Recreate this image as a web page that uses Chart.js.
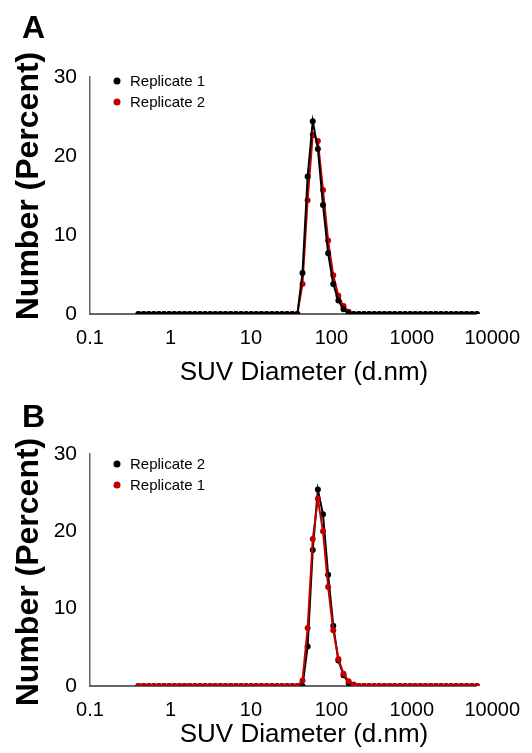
<!DOCTYPE html>
<html>
<head>
<meta charset="utf-8">
<script src="https://cdn.jsdelivr.net/npm/chart.js@4.4.1/dist/chart.umd.min.js"></script>
<style>
  html, body { margin: 0; padding: 0; background: #fff; }
  canvas { display: block; }
</style>
</head>
<body>
<canvas id="chartA" width="532" height="390"></canvas>
<canvas id="chartB" width="532" height="363"></canvas>
<script>
// DLS size bins (d.nm)
const sizes = [0.4, 0.4632, 0.5365, 0.6213, 0.7195, 0.8332, 0.9649, 1.117, 1.294, 1.499,
  1.736, 2.01, 2.328, 2.696, 3.122, 3.615, 4.187, 4.849, 5.615, 6.503,
  7.531, 8.721, 10.1, 11.7, 13.54, 15.69, 18.17, 21.04, 24.36, 28.21,
  32.67, 37.84, 43.82, 50.75, 58.77, 68.06, 78.82, 91.28, 105.7, 122.4,
  141.8, 164.2, 190.1, 220.2, 255, 295.3, 342, 396.1, 458.7, 531.2,
  615.1, 712.4, 825, 955.4, 1106, 1281, 1484, 1718, 1990, 2305,
  2669, 3091, 3580, 4145, 4801, 5560, 6439];

// panel A
const a_rep1 = [0, 0, 0, 0, 0, 0, 0, 0, 0, 0, 0, 0, 0, 0, 0, 0, 0, 0, 0, 0,
  0, 0, 0, 0, 0, 0, 0, 0, 0, 0, 0, 0, 5.2, 17.4, 24.4, 20.9, 13.8, 7.7, 3.8, 1.7,
  0.6, 0.1, 0, 0, 0, 0, 0, 0, 0, 0, 0, 0, 0, 0, 0, 0, 0, 0, 0, 0,
  0, 0, 0, 0, 0, 0, 0];
const a_rep2 = [0, 0, 0, 0, 0, 0, 0, 0, 0, 0, 0, 0, 0, 0, 0, 0, 0, 0, 0, 0,
  0, 0, 0, 0, 0, 0, 0, 0, 0, 0, 0, 0, 3.8, 14.4, 22.7, 21.9, 15.7, 9.3, 4.9, 2.3,
  1.0, 0.3, 0, 0, 0, 0, 0, 0, 0, 0, 0, 0, 0, 0, 0, 0, 0, 0, 0, 0,
  0, 0, 0, 0, 0, 0, 0];

// panel B
const b_rep2 = [0, 0, 0, 0, 0, 0, 0, 0, 0, 0, 0, 0, 0, 0, 0, 0, 0, 0, 0, 0,
  0, 0, 0, 0, 0, 0, 0, 0, 0, 0, 0, 0, 0, 5.1, 17.6, 25.4, 22.2, 14.4, 7.8, 3.3,
  1.4, 0.4, 0, 0, 0, 0, 0, 0, 0, 0, 0, 0, 0, 0, 0, 0, 0, 0, 0, 0,
  0, 0, 0, 0, 0, 0, 0];
const b_rep1 = [0, 0, 0, 0, 0, 0, 0, 0, 0, 0, 0, 0, 0, 0, 0, 0, 0, 0, 0, 0,
  0, 0, 0, 0, 0, 0, 0, 0, 0, 0, 0, 0, 0.7, 7.5, 19.0, 24.2, 20.0, 12.8, 7.2, 3.5,
  1.6, 0.6, 0.2, 0, 0, 0, 0, 0, 0, 0, 0, 0, 0, 0, 0, 0, 0, 0, 0, 0,
  0, 0, 0, 0, 0, 0, 0];

const xTicks = [0.1, 1, 10, 100, 1000, 10000];
const yTicks = [0, 10, 20, 30];

const BLACK = '#000000';
const RED = '#c00000';
const FONT = "'Liberation Sans', Arial, Helvetica, sans-serif";

function pts(ys) {
    return sizes.map((s, i) => ({ x: s, y: ys[i] }));
}

function series(label, ys, color, order) {
    return {
        label: label,
        data: pts(ys),
        borderColor: color,
        backgroundColor: color,
        borderWidth: 2,
        pointRadius: 3,
        pointBorderWidth: 0,
        pointHoverRadius: 3,
        tension: 0,
        order: order
    };
}

// x axis line (stops at the last bin), letter, axis titles and in-plot legend
const panelPlugin = {
    id: 'panelText',
    beforeDatasetsDraw(chart) {
        const ctx = chart.ctx;
        const area = chart.chartArea;
        const xEnd = chart.scales.x.getPixelForValue(sizes[sizes.length - 1]);
        ctx.save();
        ctx.strokeStyle = '#333';
        ctx.lineWidth = 1.5;
        ctx.beginPath();
        ctx.moveTo(area.left, area.bottom);
        ctx.lineTo(xEnd, area.bottom);
        ctx.stroke();
        ctx.restore();
    },
    afterDraw(chart, args, opts) {
        const ctx = chart.ctx;
        ctx.save();
        ctx.fillStyle = '#000';
        ctx.font = 'bold 32px ' + FONT;
        ctx.textBaseline = 'alphabetic';
        ctx.textAlign = 'left';
        ctx.fillText(opts.letter, 22, opts.letterY);

        // y title
        ctx.save();
        ctx.translate(29, opts.yTitleY);
        ctx.rotate(-Math.PI / 2);
        ctx.textAlign = 'center';
        ctx.textBaseline = 'middle';
        ctx.fillText('Number (Percent)', 0, 0);
        ctx.restore();

        // x title
        ctx.font = '26px ' + FONT;
        ctx.textAlign = 'center';
        ctx.textBaseline = 'middle';
        ctx.fillText('SUV Diameter (d.nm)', 304, opts.xTitleY);

        ctx.font = '15px ' + FONT;
        ctx.textAlign = 'left';
        opts.items.forEach((item, i) => {
            const y = opts.legendY + i * 21;
            ctx.fillStyle = item.color;
            ctx.beginPath();
            ctx.arc(117, y, 3.5, 0, Math.PI * 2);
            ctx.fill();
            ctx.fillStyle = '#000';
            ctx.fillText(item.label, 130, y + 1);
        });
        ctx.restore();
    }
};

function makeChart(id, datasets, panel) {
    const ctx = document.getElementById(id).getContext('2d');
    return new Chart(ctx, {
        type: 'line',
        data: { datasets: datasets },
        plugins: [panelPlugin],
        options: {
            responsive: false,
            animation: false,
            events: [],
            layout: { padding: { left: 0, right: 33, top: panel.top, bottom: 0 } },
            plugins: {
                legend: { display: false },
                tooltip: { enabled: false },
                panelText: panel
            },
            scales: {
                x: {
                    type: 'logarithmic',
                    min: 0.1,
                    max: 10000,
                    afterBuildTicks: function(scale) {
                        scale.ticks = xTicks.map(v => ({ value: v }));
                    },
                    afterFit: function(scale) { scale.height = panel.xHeight; },
                    grid: { display: false, drawTicks: false },
                    border: { display: false },
                    ticks: {
                        autoSkip: false,
                        maxRotation: 0,
                        padding: 12,
                        color: '#000',
                        font: { family: FONT, size: 20 },
                        callback: function(v) { return String(v); }
                    }
                },
                y: {
                    min: 0,
                    max: 30,
                    afterBuildTicks: function(scale) {
                        scale.ticks = yTicks.map(v => ({ value: v }));
                    },
                    afterFit: function(scale) { scale.width = 90; },
                    grid: { display: false, drawTicks: false },
                    border: { display: true, color: '#666', width: 1.5 },
                    ticks: {
                        padding: 13,
                        color: '#000',
                        font: { family: FONT, size: 21 }
                    }
                }
            }
        }
    });
}

makeChart('chartA', [
    series('Replicate 1', a_rep1, BLACK, 0),
    series('Replicate 2', a_rep2, RED, 1)
], {
    top: 77, xHeight: 76, letter: 'A', letterY: 38, legendY: 81,
    yTitleY: 186, xTitleY: 373,
    items: [{ label: 'Replicate 1', color: BLACK }, { label: 'Replicate 2', color: RED }]
});

makeChart('chartB', [
    series('Replicate 2', b_rep2, BLACK, 1),
    series('Replicate 1', b_rep1, RED, 0)
], {
    top: 64, xHeight: 67, letter: 'B', letterY: 37, legendY: 74,
    yTitleY: 182, xTitleY: 345,
    items: [{ label: 'Replicate 2', color: BLACK }, { label: 'Replicate 1', color: RED }]
});
</script>
</body>
</html>
